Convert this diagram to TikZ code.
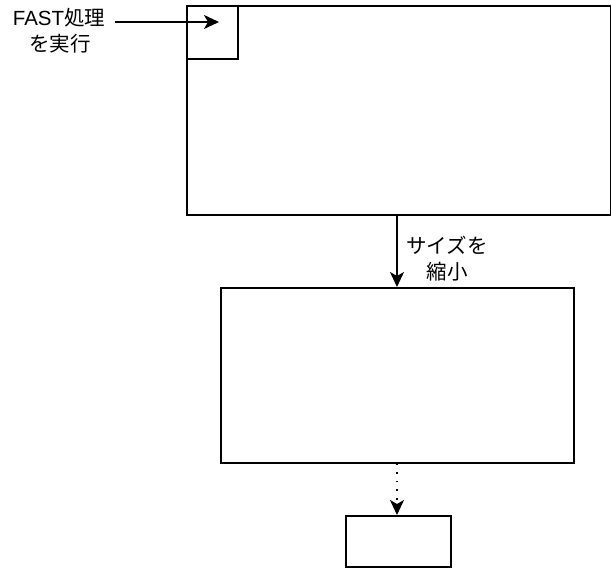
\documentclass[tikz,border=0pt]{standalone}
\usepackage{fontspec}
\setmainfont{Liberation Sans}
\newfontfamily\cjk{Noto Sans CJK JP}
\usetikzlibrary{arrows.meta}
\begin{document}
\begin{tikzpicture}[x=1pt,y=-1pt,
  box/.style={draw,line width=1.6pt,inner sep=0pt},
  arr/.style={line width=1.6pt,-{Stealth[length=15pt,width=14pt,inset=4pt]}},
  lbl/.style={font=\fontsize{20.5}{25}\selectfont,align=center,inner sep=0pt}]
\useasboundingbox (0,0) rectangle (611,569);
\fill[white] (0,0) rectangle (611,569);
\node[box,minimum width=424pt,minimum height=209pt,anchor=north west] (big) at (186,5) {};
\node[box,minimum width=51pt,minimum height=53pt,anchor=north west] (small) at (186,5) {};
\node[box,minimum width=353pt,minimum height=175pt,anchor=north west] (mid) at (220,287) {};
\node[box,minimum width=105pt,minimum height=51pt,anchor=north west] (last) at (345,515) {};
\coordinate (smallIn) at (219,22);
\node[lbl] (fast) at (59,18) {FAST{\cjk 処理}};
\node[lbl] (jikko) at (60,44) {\cjk を実行};
\coordinate (fastE) at (115,22);
\draw[arr] (fastE) -- (smallIn);
\draw[arr] (big.south -| 397,0) -- (mid.north -| 397,0);
\node[lbl] (size) at (447,245) {\cjk サイズを};
\node[lbl] (shuku) at (447,272) {\cjk 縮小};
\draw[arr,dash pattern=on 1.6pt off 7pt,line cap=butt] (mid.south -| 397,0) -- (last.north -| 397,0);
\end{tikzpicture}
\end{document}
